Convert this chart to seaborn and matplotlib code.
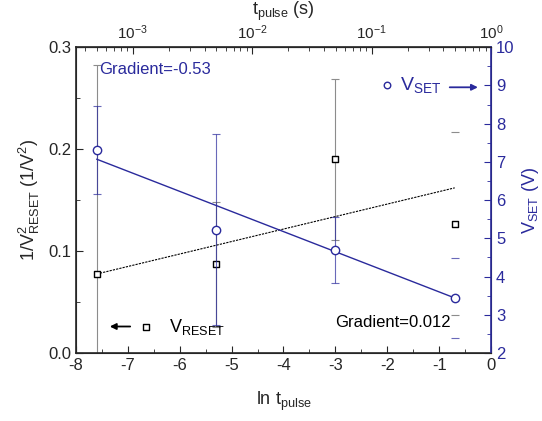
import numpy as np
import pandas as pd
import matplotlib
matplotlib.use("Agg")
import matplotlib.pyplot as plt
import seaborn as sns
from matplotlib.ticker import MultipleLocator

# data
ln_t = [-7.6, -5.3, -3.0, -0.7]
inv_v2_reset = [0.0775, 0.087, 0.190, 0.127]
reset_err = [0.205, 0.061, 0.079, 0.09]
v_set = [7.31, 5.22, 4.69, 3.44]
set_err = [1.15, 2.5, 0.86, 1.04]
fit_x = [-7.6, -0.7]
fit_reset = [0.0775, 0.162]
fit_set = [7.07, 3.44]

blue = '#2a2a9c'

sns.set_style('ticks')
plt.rcParams['font.family'] = ['Liberation Sans', 'DejaVu Sans']
plt.rcParams['mathtext.fontset'] = 'custom'
plt.rcParams['mathtext.rm'] = 'Liberation Sans'
plt.rcParams['mathtext.it'] = 'Liberation Sans'
plt.rcParams['axes.unicode_minus'] = False

df = pd.DataFrame({'ln_t': ln_t, 'reset': inv_v2_reset, 'vset': v_set})

fig = plt.figure(figsize=(5.42, 4.21), dpi=100)
ax = fig.add_axes([0.140, 0.1615, 0.766, 0.7265])
ax2 = ax.twinx()

# error bars: the last point only shows its caps in the reference
for i in range(len(ln_t)):
    lw = 0 if i == len(ln_t) - 1 else 0.8
    ax.errorbar(ln_t[i], inv_v2_reset[i], yerr=reset_err[i], fmt='none',
                ecolor='0.55', elinewidth=lw, capsize=3, capthick=0.8, zorder=1)
    ax2.errorbar(ln_t[i], v_set[i], yerr=set_err[i], fmt='none', ecolor=blue,
                 elinewidth=lw, capsize=3, capthick=0.8, zorder=1, alpha=0.7)

sns.lineplot(x=fit_x, y=fit_reset, ax=ax, color='black', linestyle=(0, (2, 1)),
             linewidth=0.8)
sns.scatterplot(data=df, x='ln_t', y='reset', ax=ax, marker='s', s=22,
                facecolor='white', edgecolor='black', linewidth=1, zorder=5)

sns.lineplot(x=fit_x, y=fit_set, ax=ax2, color=blue, linewidth=1)
sns.scatterplot(data=df, x='ln_t', y='vset', ax=ax2, marker='o', s=36,
                facecolor='white', edgecolor=blue, linewidth=1, zorder=5)

ax.set_xlim(-8, 0)
ax.set_ylim(0, 0.3)
ax2.set_ylim(2, 10)
ax.xaxis.set_major_locator(MultipleLocator(1))
ax.xaxis.set_minor_locator(MultipleLocator(0.5))
ax.yaxis.set_major_locator(MultipleLocator(0.1))
ax.yaxis.set_minor_locator(MultipleLocator(0.05))
ax2.yaxis.set_major_locator(MultipleLocator(1))
ax2.yaxis.set_minor_locator(MultipleLocator(0.5))
ax.yaxis.set_major_formatter(matplotlib.ticker.FormatStrFormatter('%.1f'))

ax.tick_params(which='both', direction='in', labelsize=12)
ax.tick_params(which='major', length=5)
ax.tick_params(which='minor', length=3)
ax2.tick_params(which='both', direction='in', labelsize=12, colors=blue)
ax2.tick_params(which='major', length=5)
ax2.tick_params(which='minor', length=3)
ax2.spines['right'].set_color(blue)
ax2.spines['right'].set_linewidth(1.2)
for s in ['left', 'bottom', 'top']:
    ax.spines[s].set_linewidth(1.2)

ax.set_xlabel(r'ln t$_{\mathregular{pulse}}$', fontsize=13, labelpad=12)
ax.set_ylabel(r'1/V$^2_{\mathregular{RESET}}$ (1/V$^2$)', fontsize=13, labelpad=4)
ax2.set_ylabel(r'V$_{\mathregular{SET}}$ (V)', fontsize=13, color=blue, labelpad=4)

# top axis: t_pulse in seconds
top = ax.secondary_xaxis('top', functions=(np.exp, np.log))
top.set_xscale('log')
top.set_xticks([1e-3, 1e-2, 1e-1, 1e0])
top.tick_params(which='both', direction='in', labelsize=11)
top.tick_params(which='major', length=5)
top.tick_params(which='minor', length=3)
top.set_xlabel(r't$_{\mathregular{pulse}}$ (s)', fontsize=13, labelpad=6)

# annotations
ax.text(-7.55, 0.274, 'Gradient=-0.53', color=blue, fontsize=12)
ax.text(-3.0, 0.026, 'Gradient=0.012', color='black', fontsize=12)

ax2.scatter([-2.0], [9.0], marker='o', s=22, facecolor='white',
            edgecolor=blue, linewidth=1)
ax2.text(-1.75, 9.0, r'V$_{\mathregular{SET}}$', color=blue, fontsize=14,
         va='center')
ax2.annotate('', xy=(-0.2, 8.95), xytext=(-0.85, 8.95),
             arrowprops=dict(arrowstyle='-|>', color=blue, lw=1.3,
                             mutation_scale=9))

ax.scatter([-6.65], [0.026], marker='s', s=14, facecolor='white',
           edgecolor='black', linewidth=1)
ax.annotate('', xy=(-7.4, 0.026), xytext=(-6.9, 0.026),
            arrowprops=dict(arrowstyle='-|>', color='black', lw=1.3,
                            mutation_scale=9))
ax.text(-6.2, 0.026, r'V$_{\mathregular{RESET}}$', color='black', fontsize=13,
        va='center')

fig.savefig('out.png', dpi=100)
